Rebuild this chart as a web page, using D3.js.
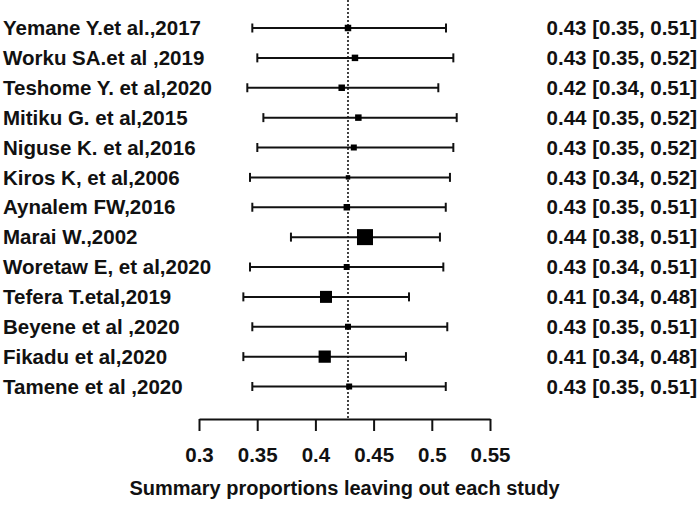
<!DOCTYPE html>
<html>
<head>
<meta charset="utf-8">
<script src="https://cdn.jsdelivr.net/npm/d3@7"></script>
<style>
  html, body { margin: 0; padding: 0; background: #fff; }
  svg { display: block; }
  text { font-family: "Liberation Sans", Arial, Helvetica, sans-serif; font-weight: bold; fill: #111; }
</style>
</head>
<body>
<svg id="chart" width="700" height="508"></svg>
<script>
const studies = ["Yemane Y.et al.,2017", "Worku SA.et al ,2019", "Teshome Y. et al,2020", "Mitiku G. et al,2015",
  "Niguse K. et al,2016", "Kiros K, et al,2006", "Aynalem FW,2016", "Marai W.,2002", "Woretaw E, et al,2020",
  "Tefera T.etal,2019", "Beyene et al ,2020", "Fikadu et al,2020", "Tamene et al ,2020"];
const estimate = [0.428, 0.434, 0.4226, 0.4369, 0.433, 0.428, 0.427, 0.4426, 0.4269, 0.4091, 0.428, 0.408, 0.429];
const lower    = [0.3458, 0.3501, 0.3415, 0.3553, 0.3501, 0.3438, 0.3458, 0.379, 0.3438, 0.3381, 0.3458, 0.3381, 0.3458];
const upper    = [0.5122, 0.5185, 0.5056, 0.5214, 0.5185, 0.5156, 0.512, 0.507, 0.5099, 0.4804, 0.5133, 0.4778, 0.512];
const weight   = [42, 42, 42, 42, 36, 20, 42, 256, 36, 144, 36, 150, 36];
const ciLabels = ["0.43 [0.35, 0.51]", "0.43 [0.35, 0.52]", "0.42 [0.34, 0.51]", "0.44 [0.35, 0.52]",
  "0.43 [0.35, 0.52]", "0.43 [0.34, 0.52]", "0.43 [0.35, 0.51]", "0.44 [0.38, 0.51]", "0.43 [0.34, 0.51]",
  "0.41 [0.34, 0.48]", "0.43 [0.35, 0.51]", "0.41 [0.34, 0.48]", "0.43 [0.35, 0.51]"];
const pooled = 0.428;
const xTicks = [0.3, 0.35, 0.4, 0.45, 0.5, 0.55];
const xTickLabels = ["0.3", "0.35", "0.4", "0.45", "0.5", "0.55"];
const xTitle = "Summary proportions leaving out each study";

const svg = d3.select("#chart");
const x = d3.scaleLinear().domain([0.3, 0.55]).range([199, 490]);
const y = d3.scalePoint().domain(d3.range(studies.length)).range([28, 386.5]);
const side = d3.scaleSqrt().domain([0, 256]).range([0, 16]);
const axisY = 419;
const fs = 20.5;

// reference dotted line
svg.append("line")
  .attr("x1", x(pooled)).attr("x2", x(pooled))
  .attr("y1", 0).attr("y2", axisY)
  .attr("stroke", "#222").attr("stroke-width", 1.7)
  .attr("stroke-dasharray", "2,2");

const rows = svg.append("g").selectAll("g").data(studies).join("g");
rows.each(function(d, i) {
  const g = d3.select(this);
  const yy = y(i);
  g.append("line").attr("x1", x(lower[i])).attr("x2", x(upper[i]))
    .attr("y1", yy).attr("y2", yy).attr("stroke", "#111").attr("stroke-width", 2);
  [lower[i], upper[i]].forEach(v => {
    g.append("line").attr("x1", x(v)).attr("x2", x(v))
      .attr("y1", yy - 4.5).attr("y2", yy + 4.5).attr("stroke", "#111").attr("stroke-width", 2);
  });
  const s = side(weight[i]);
  g.append("rect").attr("x", x(estimate[i]) - s / 2).attr("y", yy - s / 2)
    .attr("width", s).attr("height", s).attr("fill", "#000");
  g.append("text").attr("x", 3).attr("y", yy).attr("dy", "0.35em")
    .style("font-size", fs + "px").text(d);
  g.append("text").attr("x", 697).attr("y", yy).attr("dy", "0.35em")
    .attr("text-anchor", "end").style("font-size", fs + "px").text(ciLabels[i]);
});

// x axis
const axis = d3.axisBottom(x).tickValues(xTicks).tickFormat((d, i) => xTickLabels[i])
  .tickSizeInner(12).tickSizeOuter(0).tickPadding(16);
const ax = svg.append("g").attr("transform", `translate(0,${axisY})`).call(axis);
ax.select(".domain").attr("stroke", "#111").attr("stroke-width", 2);
ax.selectAll(".tick line").attr("stroke", "#111").attr("stroke-width", 2);
ax.selectAll(".tick text").style("font-size", fs + "px")
  .style("font-family", '"Liberation Sans", Arial, sans-serif').style("font-weight", "bold").attr("fill", "#111");

svg.append("text").attr("x", (x(0.3) + x(0.55)) / 2).attr("y", 495)
  .attr("text-anchor", "middle").style("font-size", "20px").text(xTitle);
</script>
</body>
</html>
